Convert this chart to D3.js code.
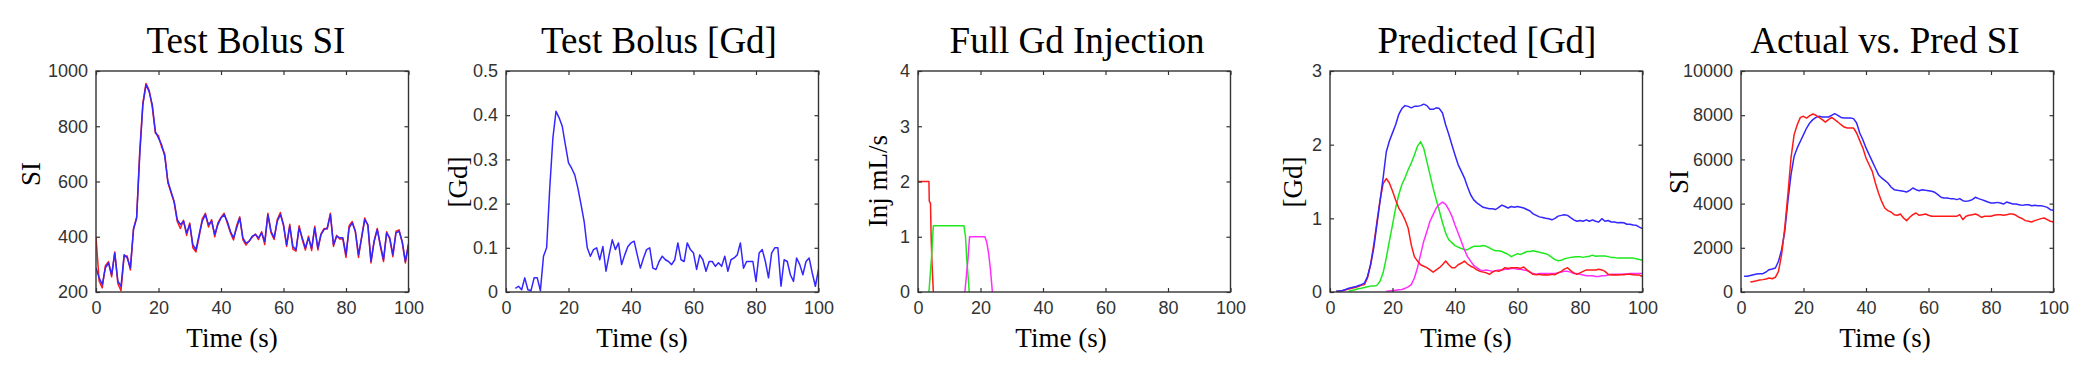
<!DOCTYPE html>
<html>
<head>
<meta charset="utf-8">
<script src="https://cdn.jsdelivr.net/npm/d3@7"></script>
<style>
  body { margin: 0; background: #fff; }
  .tick text { font-family: "Liberation Sans", Arial, sans-serif; font-size: 18px; fill: #333; }
  .tick line { stroke: #333; stroke-width: 1.2; }
  .ttl { font-family: "Liberation Serif", "Times New Roman", serif; fill: #000; }
</style>
</head>
<body>
<div id="plot"></div>
<script>
// sample times (s), one per second
const time = d3.range(0, 101)

// panel 1: test bolus signal intensity
const bolusSiRed = [
  400,240,215,295,310,255,345,230,205,330,
  330,280,430,470,710,885,955,930,870,775,
  765,725,700,595,560,525,455,430,460,405,
  450,360,345,400,465,485,435,462,400,450,
  470,485,450,415,388,440,472,390,370,385,
  398,410,390,418,372,485,415,390,462,488,
  440,365,445,355,348,440,390,352,402,350,
  438,352,410,430,428,485,365,405,392,392,
  325,440,455,418,325,400,468,440,305,385,
  430,365,310,418,392,328,420,425,378,305,375]
const bolusSiBlue = [
  287,251,227,287,305,263,341,239,220,335,
  323,287,426,468,697,878,950,926,878,781,
  757,733,691,601,564,528,462,444,456,414,
  444,371,353,408,456,480,444,456,408,444,
  468,480,456,420,396,432,468,396,377,383,
  402,408,396,414,383,480,420,396,456,480,
  444,371,438,365,353,432,396,359,396,359,
  432,359,408,426,432,480,371,402,396,396,
  335,432,450,420,335,396,462,444,311,383,
  426,371,317,414,396,335,414,420,383,311,371]

// panel 2: test bolus concentration
const bolusGd = [
  null,null,null,0.008,0.013,0.005,0.032,0.005,0.003,0.032,
  0.032,0.003,0.081,0.10,0.235,0.348,0.409,0.394,0.375,0.333,
  0.292,0.28,0.265,0.235,0.198,0.16,0.10,0.081,0.096,0.10,
  0.073,0.103,0.047,0.084,0.118,0.096,0.111,0.062,0.084,0.103,
  0.111,0.115,0.084,0.054,0.077,0.096,0.10,0.054,0.051,0.069,
  0.081,0.073,0.069,0.062,0.073,0.111,0.073,0.069,0.111,0.096,
  0.088,0.051,0.084,0.073,0.047,0.069,0.069,0.058,0.066,0.058,
  0.081,0.047,0.073,0.077,0.084,0.111,0.054,0.069,0.069,0.069,
  0.024,0.088,0.096,0.069,0.032,0.088,0.10,0.10,0.013,0.073,
  0.069,0.039,0.024,0.077,0.062,0.039,0.069,0.077,0.043,0.013,0.051]

// panel 3: injection phases (time, rate)
const injRedT = [0, 3.5, 3.6, 4.0, 4.2, 4.5, 4.9]
const injRedV = [2, 2, 1.65, 1.6, 1.0, 0.5, 0]
const injGreenT = [3.5, 3.9, 4.3, 4.9, 14.7, 15.2, 15.6, 16.0, 16.4]
const injGreenV = [0, 0.3, 0.6, 1.2, 1.2, 1.0, 0.6, 0.3, 0]
const injMagT = [15.0, 15.5, 16.0, 16.5, 21.4, 22.0, 22.6, 23.2, 23.8]
const injMagV = [0, 0.3, 0.6, 1.0, 1.0, 0.9, 0.7, 0.4, 0]

// panel 4: predicted concentration
const predRed = [
  null,null,0.01,0.012,0.018,0.03,0.04,0.05,0.06,0.075,
  0.09,0.10,0.19,0.38,0.64,0.95,1.24,1.47,1.54,1.48,
  1.37,1.25,1.14,1.07,0.98,0.87,0.64,0.48,0.42,0.37,
  0.35,0.33,0.30,0.27,0.30,0.33,0.37,0.42,0.37,0.33,
  0.33,0.37,0.39,0.42,0.38,0.35,0.33,0.30,0.28,0.27,
  0.26,0.24,0.27,0.29,0.28,0.30,0.33,0.32,0.33,0.33,
  0.33,0.32,0.34,0.30,0.27,0.24,0.235,0.24,0.23,0.235,
  0.23,0.24,0.235,0.26,0.28,0.31,0.33,0.29,0.26,0.24,
  0.26,0.28,0.30,0.30,0.30,0.30,0.31,0.30,0.28,0.24,
  0.23,0.235,0.23,0.235,0.235,0.24,0.24,0.235,0.23,0.23,0.21]
const predGreen = [
  null,null,null,null,null,null,0.01,0.02,0.03,0.045,
  0.05,0.06,0.07,0.08,0.08,0.09,0.145,0.26,0.46,0.69,
  0.91,1.14,1.32,1.46,1.55,1.66,1.75,1.86,1.98,2.04,
  1.95,1.77,1.59,1.41,1.25,1.10,0.94,0.80,0.71,0.67,
  0.63,0.61,0.59,0.575,0.575,0.60,0.62,0.62,0.62,0.63,
  0.62,0.60,0.575,0.56,0.56,0.55,0.53,0.51,0.48,0.50,
  0.52,0.51,0.53,0.55,0.55,0.56,0.55,0.54,0.53,0.52,
  0.50,0.47,0.44,0.425,0.43,0.45,0.46,0.47,0.475,0.48,
  0.48,0.47,0.48,0.485,0.50,0.485,0.49,0.49,0.49,0.48,
  0.47,0.47,0.46,0.46,0.46,0.46,0.46,0.46,0.45,0.44,0.43]
const predMagenta = [
  null,null,null,null,null,null,null,null,null,null,
  null,null,null,null,null,null,null,null,0.01,0.015,
  0.02,0.025,0.03,0.035,0.05,0.07,0.10,0.19,0.33,0.51,
  0.69,0.82,0.96,1.05,1.14,1.19,1.22,1.19,1.12,1.03,
  0.91,0.80,0.69,0.575,0.48,0.42,0.36,0.33,0.30,0.29,
  0.30,0.29,0.28,0.29,0.30,0.30,0.31,0.31,0.32,0.32,
  0.31,0.31,0.30,0.29,0.27,0.25,0.24,0.25,0.25,0.25,
  0.25,0.25,0.25,0.26,0.27,0.28,0.28,0.27,0.25,0.25,
  0.24,0.23,0.22,0.22,0.22,0.21,0.21,0.22,0.22,0.23,
  0.24,0.24,0.24,0.24,0.245,0.245,0.25,0.25,0.25,0.25,0.25]
const predBlue = [
  null,null,0.01,0.015,0.02,0.035,0.05,0.06,0.07,0.085,
  0.10,0.12,0.21,0.37,0.60,0.91,1.23,1.55,1.90,2.05,
  2.16,2.27,2.41,2.49,2.53,2.52,2.50,2.52,2.52,2.53,
  2.55,2.53,2.48,2.48,2.50,2.49,2.43,2.27,2.14,2.00,
  1.86,1.73,1.64,1.55,1.43,1.32,1.25,1.21,1.18,1.15,
  1.14,1.13,1.13,1.12,1.15,1.18,1.16,1.14,1.16,1.15,
  1.16,1.15,1.14,1.12,1.10,1.06,1.04,1.02,1.01,1.00,
  0.995,0.98,1.00,1.03,1.04,1.05,1.04,1.01,0.98,0.96,
  0.97,0.96,0.98,0.96,0.98,0.96,0.95,0.995,0.96,0.97,
  0.95,0.95,0.94,0.945,0.94,0.92,0.92,0.91,0.905,0.88,0.86]

// panel 5: actual vs predicted signal intensity
const siPred = [
  null,710,710,750,785,815,830,830,905,1010,
  1040,1085,1390,1915,2745,4100,5310,6140,6520,6820,
  7120,7420,7650,7800,7900,7950,7920,7920,7920,7995,
  8070,7995,7900,7870,7870,7870,7845,7650,7195,6890,
  6520,6215,5910,5610,5310,5160,5050,4930,4750,4630,
  4600,4585,4555,4525,4600,4705,4630,4585,4630,4600,
  4585,4555,4510,4405,4285,4255,4255,4225,4225,4180,
  4225,4130,4100,4130,4180,4285,4225,4180,4130,4070,
  4025,4025,4055,4025,3980,4070,4025,3980,3980,3950,
  3920,3950,3950,3905,3920,3905,3905,3875,3830,3725,3695]
const siActual = [
  null,null,null,450,480,510,545,560,590,635,
  600,665,935,1690,2900,4405,6065,7120,7570,7900,
  7950,7870,7980,8055,7995,7900,7800,7690,7800,7900,
  7800,7690,7570,7465,7420,7420,7420,7195,6850,6515,
  6065,5760,5460,4930,4480,4100,3800,3680,3620,3500,
  3470,3530,3350,3230,3380,3500,3575,3470,3500,3530,
  3470,3425,3425,3425,3425,3425,3425,3425,3425,3425,
  3500,3275,3425,3470,3500,3530,3470,3380,3425,3425,
  3425,3470,3500,3500,3470,3500,3530,3530,3470,3380,
  3320,3230,3200,3170,3230,3275,3320,3350,3275,3200,3170]

const xTicks = [0, 20, 40, 60, 80, 100]

const BLUE = '#3326ff', RED = '#ff1a1a', GREEN = '#1ee81e', MAGENTA = '#ff2eff'

const W = 2100, H = 381
const plotTop = 71, plotBottom = 292, plotW = 312.5

const svg = d3.select('#plot').append('svg')
  .attr('width', W).attr('height', H)

const panels = [
  { left: 96, yDomain: [200, 1000], yTicks: [200, 400, 600, 800, 1000], fmt: d3.format('d'),
    title: 'Test Bolus SI', titleX: 246, ylabel: 'SI', ylabelX: 40, ylabelY: 174, xlabelX: 232,
    series: [
      { xs: time, ys: bolusSiRed, color: RED },
      { xs: time, ys: bolusSiBlue, color: BLUE }] },
  { left: 506, yDomain: [0, 0.5], yTicks: [0, 0.1, 0.2, 0.3, 0.4, 0.5], fmt: d3.format('~g'),
    title: 'Test Bolus [Gd]', titleX: 659, ylabel: '[Gd]', ylabelX: 467, ylabelY: 182, xlabelX: 642,
    series: [{ xs: time, ys: bolusGd, color: BLUE }] },
  { left: 918, yDomain: [0, 4], yTicks: [0, 1, 2, 3, 4], fmt: d3.format('d'),
    title: 'Full Gd Injection', titleX: 1077, ylabel: 'Inj mL/s', ylabelX: 887, ylabelY: 181, xlabelX: 1061,
    series: [
      { xs: injRedT, ys: injRedV, color: RED },
      { xs: injGreenT, ys: injGreenV, color: GREEN },
      { xs: injMagT, ys: injMagV, color: MAGENTA }] },
  { left: 1330, yDomain: [0, 3], yTicks: [0, 1, 2, 3], fmt: d3.format('d'),
    title: 'Predicted [Gd]', titleX: 1487, ylabel: '[Gd]', ylabelX: 1302, ylabelY: 182, xlabelX: 1466,
    series: [
      { xs: time, ys: predGreen, color: GREEN },
      { xs: time, ys: predMagenta, color: MAGENTA },
      { xs: time, ys: predRed, color: RED },
      { xs: time, ys: predBlue, color: BLUE }] },
  { left: 1741, yDomain: [0, 10000], yTicks: [0, 2000, 4000, 6000, 8000, 10000], fmt: d3.format('d'),
    title: 'Actual vs. Pred SI', titleX: 1885, ylabel: 'SI', ylabelX: 1688, ylabelY: 182, xlabelX: 1885,
    series: [
      { xs: time, ys: siPred, color: BLUE },
      { xs: time, ys: siActual, color: RED }] }
]

panels.forEach((p, i) => {
  const x = d3.scaleLinear().domain([0, 100]).range([p.left, p.left + plotW])
  const y = d3.scaleLinear().domain(p.yDomain).range([plotBottom, plotTop])
  const g = svg.append('g')

  g.append('clipPath').attr('id', 'clip' + i)
    .append('rect')
    .attr('x', p.left).attr('y', plotTop)
    .attr('width', plotW).attr('height', plotBottom - plotTop)

  // lines
  const line = d3.line()
    .defined(d => d[1] != null)
    .x(d => x(d[0]))
    .y(d => y(d[1]))
  p.series.forEach(s => {
    const pts = s.xs.map((t, k) => [t, s.ys[k]])
    g.append('path')
      .attr('d', line(pts))
      .attr('fill', 'none')
      .attr('stroke', s.color)
      .attr('stroke-width', 1.5)
      .attr('stroke-linejoin', 'round')
      .attr('clip-path', 'url(#clip' + i + ')')
  })

  // axes, ticks pointing inward on all four sides
  const axB = g.append('g').attr('transform', 'translate(0,' + plotBottom + ')')
    .call(d3.axisBottom(x).tickValues(xTicks).tickSize(-4).tickPadding(8).tickFormat(d3.format('d')))
  const axT = g.append('g').attr('transform', 'translate(0,' + plotTop + ')')
    .call(d3.axisTop(x).tickValues(xTicks).tickSize(-4).tickFormat(''))
  const axL = g.append('g').attr('transform', 'translate(' + p.left + ',0)')
    .call(d3.axisLeft(y).tickValues(p.yTicks).tickSize(-4).tickPadding(8).tickFormat(p.fmt))
  const axR = g.append('g').attr('transform', 'translate(' + (p.left + plotW) + ',0)')
    .call(d3.axisRight(y).tickValues(p.yTicks).tickSize(-4).tickFormat(''))
  ;[axB, axT, axL, axR].forEach(a => a.select('.domain').remove())
  axB.selectAll('.tick text').attr('dy', '0.75em')

  g.append('rect')
    .attr('x', p.left).attr('y', plotTop)
    .attr('width', plotW).attr('height', plotBottom - plotTop)
    .attr('fill', 'none')
    .attr('stroke', '#333')
    .attr('stroke-width', 1.4)

  // texts
  g.append('text').attr('class', 'ttl')
    .attr('x', p.titleX).attr('y', 53)
    .attr('text-anchor', 'middle')
    .style('font-size', '37px')
    .text(p.title)
  g.append('text').attr('class', 'ttl')
    .attr('x', p.xlabelX).attr('y', 347)
    .attr('text-anchor', 'middle')
    .style('font-size', '27px')
    .text('Time (s)')
  g.append('text').attr('class', 'ttl')
    .attr('transform', 'translate(' + p.ylabelX + ',' + p.ylabelY + ') rotate(-90)')
    .attr('text-anchor', 'middle')
    .style('font-size', '27px')
    .text(p.ylabel)
})
</script>
</body>
</html>
